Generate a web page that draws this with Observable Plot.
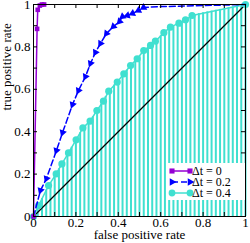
<!DOCTYPE html>
<html><head><meta charset="utf-8">
<script src="https://cdn.jsdelivr.net/npm/d3@7"></script>
<script src="https://cdn.jsdelivr.net/npm/@observablehq/plot@0.6"></script>
<style>
body{margin:0;background:#fff}
#wrap{position:relative;width:250px;height:243px;overflow:hidden}
#legend{position:absolute;left:167px;top:163px}
</style>
</head><body><div id="wrap"></div>
<script>
// Δt = 0 (purple squares)
const purpleX = [0, 0.017, 0.02, 0.03, 0.04, 0.05];
const purpleY = [0, 0.885, 0.975, 0.995, 1, 1];
// Δt = 0.2 (blue triangles, dashed)
const blueX = [0, 0.033, 0.061, 0.108, 0.137, 0.184, 0.212, 0.245, 0.269, 0.292, 0.316, 0.344, 0.377, 0.406, 0.42, 0.443, 0.467, 0.495, 0.519];
const blueY = [0, 0.123, 0.179, 0.311, 0.396, 0.528, 0.594, 0.66, 0.722, 0.774, 0.816, 0.863, 0.896, 0.92, 0.943, 0.948, 0.958, 0.972, 0.986];
const blueTailX = [0.6, 0.8, 1.0];
const blueTailY = [0.99, 0.995, 1.0];
// Δt = 0.4 (turquoise circles)
const turqX = [0, 0.024, 0.071, 0.107, 0.134, 0.165, 0.201, 0.233, 0.267, 0.299, 0.33, 0.355, 0.395, 0.426, 0.458, 0.489, 0.52, 0.552, 0.575, 0.615, 0.646, 0.686, 0.717, 0.748, 1.0];
const turqY = [0, 0.052, 0.146, 0.201, 0.248, 0.3, 0.362, 0.418, 0.45, 0.5, 0.544, 0.591, 0.634, 0.673, 0.712, 0.744, 0.783, 0.807, 0.827, 0.867, 0.893, 0.912, 0.928, 0.948, 1.0];
// Δt = 0.4 impulses
const impX = [0, 0.02, 0.04, 0.06, 0.08, 0.1, 0.12, 0.14, 0.16, 0.18, 0.2, 0.22, 0.24, 0.26, 0.28, 0.3, 0.32, 0.34, 0.36, 0.38, 0.4, 0.42, 0.44, 0.46, 0.48, 0.5, 0.52, 0.54, 0.56, 0.58, 0.6, 0.62, 0.64, 0.66, 0.68, 0.7, 0.72, 0.74, 0.76, 0.78, 0.8, 0.82, 0.84, 0.86, 0.88, 0.9, 0.92, 0.94, 0.96, 0.98, 1.0];
const impY = [0, 0.045, 0.085, 0.125, 0.16, 0.19, 0.225, 0.258, 0.29, 0.327, 0.36, 0.395, 0.425, 0.443, 0.47, 0.5, 0.53, 0.565, 0.595, 0.62, 0.64, 0.665, 0.69, 0.713, 0.735, 0.755, 0.783, 0.798, 0.813, 0.83, 0.852, 0.871, 0.888, 0.9, 0.91, 0.92, 0.93, 0.943, 0.952, 0.957, 0.961, 0.965, 0.969, 0.973, 0.977, 0.981, 0.985, 0.989, 0.993, 0.997, 1.0];
// diagonal
const diagX = [0, 1];
const diagY = [0, 1];
// ticks
const majorTicks = [0, 0.2, 0.4, 0.6, 0.8, 1];
const minorTicks = [0, 0.1, 0.2, 0.3, 0.4, 0.5, 0.6, 0.7, 0.8, 0.9, 1];
const xLabel = "false positive rate";
const yLabel = "true positive rate";
const legendLabels = ["Δt = 0", "Δt = 0.2", "Δt = 0.4"];

const cPurple = "#9400d3", cBlue = "#0000ff", cTurq = "#40e0d0";
const font = "Liberation Serif, Times New Roman, serif";

const zip = (xs, ys) => xs.map((x, i) => ({x, y: ys[i]}));
const purple = zip(purpleX, purpleY);
const blue = zip(blueX, blueY);
const blueLine = blue.concat(zip(blueTailX, blueTailY));
const blueRot = blue.map((d, i) => {
  const a = blue[Math.max(0, i - 1)], b = blue[Math.min(blue.length - 1, i + 1)];
  return {...d, rot: Math.atan2(a.x - b.x, a.y - b.y) * 180 / Math.PI};
}).slice(1);
const turq = zip(turqX, turqY);
const imp = zip(impX, impY);
const diag = zip(diagX, diagY);

const W = 250, H = 243, mL = 33, mR = 5, mT = 4, mB = 27;
const fw = W - mL - mR, fh = H - mT - mB;
const tl = 4;

const chart = Plot.plot({
  width: W, height: H,
  marginLeft: mL, marginRight: mR, marginTop: mT, marginBottom: mB,
  style: {fontFamily: font, fontSize: "13px", background: "white", color: "black"},
  x: {domain: [0, 1]},
  y: {domain: [0, 1]},
  marks: [
    Plot.ruleX(imp, {x: "x", y1: 0, y2: "y", stroke: cTurq, strokeWidth: 2}),
    Plot.line(diag, {x: "x", y: "y", stroke: "black", strokeWidth: 1.3}),
    Plot.line(turq, {x: "x", y: "y", stroke: cTurq, strokeWidth: 1.5}),
    Plot.dot(turq, {x: "x", y: "y", r: 3.6, fill: cTurq, stroke: "none"}),
    Plot.line(blueLine, {x: "x", y: "y", stroke: cBlue, strokeWidth: 1.5, strokeDasharray: "6,3"}),
    Plot.dot(blueRot, {x: "x", y: "y", symbol: "triangle", r: 2.8, fill: cBlue, stroke: "none", rotate: "rot"}),
    Plot.line(purple, {x: "x", y: "y", stroke: cPurple, strokeWidth: 1.5}),
    Plot.dot(purple, {x: "x", y: "y", symbol: "square", r: 2.6, fill: cPurple, stroke: "none"}),
    // inward ticks on all four sides
    Plot.tickX(minorTicks, {x: d => d, insetTop: fh - tl, stroke: "black"}),
    Plot.tickX(minorTicks, {x: d => d, insetBottom: fh - tl, stroke: "black"}),
    Plot.tickY(minorTicks, {y: d => d, insetRight: fw - tl, stroke: "black"}),
    Plot.tickY(minorTicks, {y: d => d, insetLeft: fw - tl, stroke: "black"}),
    Plot.frame({stroke: "black", strokeWidth: 1}),
    Plot.axisX({ticks: majorTicks, tickSize: 0, tickPadding: 1.5, tickFormat: d => String(d), label: null, fontSize: 13, fontFamily: font}),
    Plot.axisY({ticks: majorTicks, tickSize: 0, tickPadding: 3, tickFormat: d => String(d), label: null, fontSize: 13, fontFamily: font}),
    Plot.text([xLabel], {text: d => d, frameAnchor: "bottom", dy: 22, fontSize: 13, fontFamily: font}),
    Plot.text([yLabel], {text: d => d, frameAnchor: "left", dx: -27, rotate: -90, fontSize: 13, fontFamily: font})
  ]
});
const wrap = document.getElementById("wrap");
wrap.appendChild(chart);

// legend
const lw = 78, lh = 37;
const leg = d3.select(wrap).append("svg").attr("id", "legend").attr("width", lw).attr("height", lh)
  .style("font-family", font).style("font-size", "12px");
leg.append("rect").attr("width", lw).attr("height", lh).attr("fill", "white");
const entries = [
  {label: legendLabels[0], color: cPurple, sym: d3.symbolSquare, size: 26, rot: 0, dash: null},
  {label: legendLabels[1], color: cBlue, sym: d3.symbolTriangle, size: 26, rot: 90, dash: "6,3"},
  {label: legendLabels[2], color: cTurq, sym: d3.symbolCircle, size: 36, rot: 0, dash: null}
];
entries.forEach((e, i) => {
  const y = 8 + i * 11;
  const g = leg.append("g").attr("transform", `translate(0,${y})`);
  g.append("line").attr("x1", 5).attr("x2", 23).attr("stroke", e.color).attr("stroke-width", 1.5)
    .attr("stroke-dasharray", e.dash);
  [5, 23].forEach(x => g.append("path").attr("d", d3.symbol(e.sym, e.size)())
    .attr("transform", `translate(${x},0) rotate(${e.rot})`).attr("fill", e.color));
  g.append("text").attr("x", 25).attr("dy", "0.35em").attr("font-family", font).text(e.label);
});
</script>
</body></html>
